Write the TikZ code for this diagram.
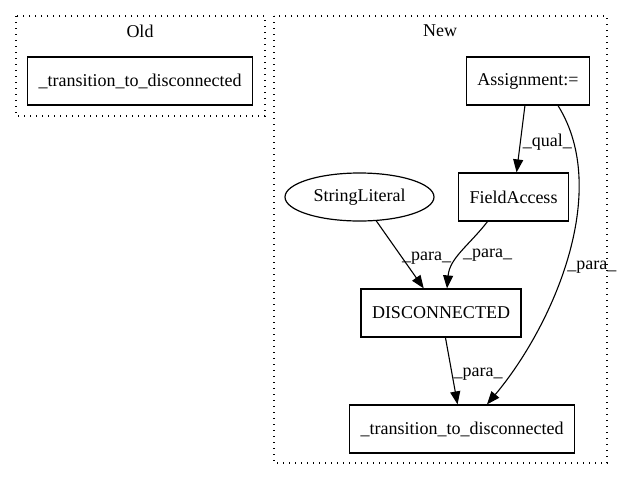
\documentclass[tikz,border=0pt]{standalone}
\usepackage{fontspec}
\setmainfont{Liberation Serif}
\usetikzlibrary{arrows.meta,positioning,shapes.geometric}

\tikzset{
  box/.style={draw,rectangle,line width=1.2pt,inner xsep=11pt,minimum height=48pt},
  lit/.style={draw,ellipse,line width=1.2pt,inner sep=0pt,minimum width=149pt,minimum height=48pt},
  cluster/.style={line width=1.2pt,dash pattern=on 1.2pt off 4.8pt},
  lbl/.style={inner sep=1.5pt,right,yshift=-3pt}
}

\begin{document}
\begin{tikzpicture}[x=1pt,y=1pt,>={Triangle[length=13pt,width=10pt]},node distance=116pt,on grid,font=\fontsize{18}{21}\selectfont]
    \useasboundingbox (0,0) rectangle (631,-480);
    % clusters
    \draw[cluster] (16,-16) rectangle (265,-116);
    \draw[cluster] (274,-16) rectangle (607,-463);
    \node (old_lbl) at (140,-31) {Old};
    \node (new_lbl) at (440,-31) {New};
    % old
    \node[box] (old_trans) at (140,-81) {\_transition\_to\_disconnected};
    % new
    \node[box] (assign) at (528,-81) {Assignment:=};
    \node[box] (field)  [below left=116pt and 14.5pt of assign] {FieldAccess};
    \node[lit] (strlit) [left=154pt of field] {StringLiteral};
    \node[box] (disc)   [below left=116pt and 72.5pt of field] {DISCONNECTED};
    \node[box] (trans)  [below right=116pt and 21pt of disc] {\_transition\_to\_disconnected};
    \path[->,line width=1.1pt]
    (assign) edge node[lbl] {\_qual\_} (field)
    (strlit) edge node[lbl] {\_para\_} (disc)
    ([xshift=-26pt]field.south) edge [out=-128,in=85] node[lbl] {\_para\_} ([xshift=6pt]disc.north)
    (disc)   edge node[lbl] {\_para\_} (trans)
    ([xshift=30pt]assign.south) edge [out=-58,in=50,looseness=0.85] node[lbl,pos=0.52] {\_para\_} ([xshift=25pt]trans.north);
\end{tikzpicture}
\end{document}
